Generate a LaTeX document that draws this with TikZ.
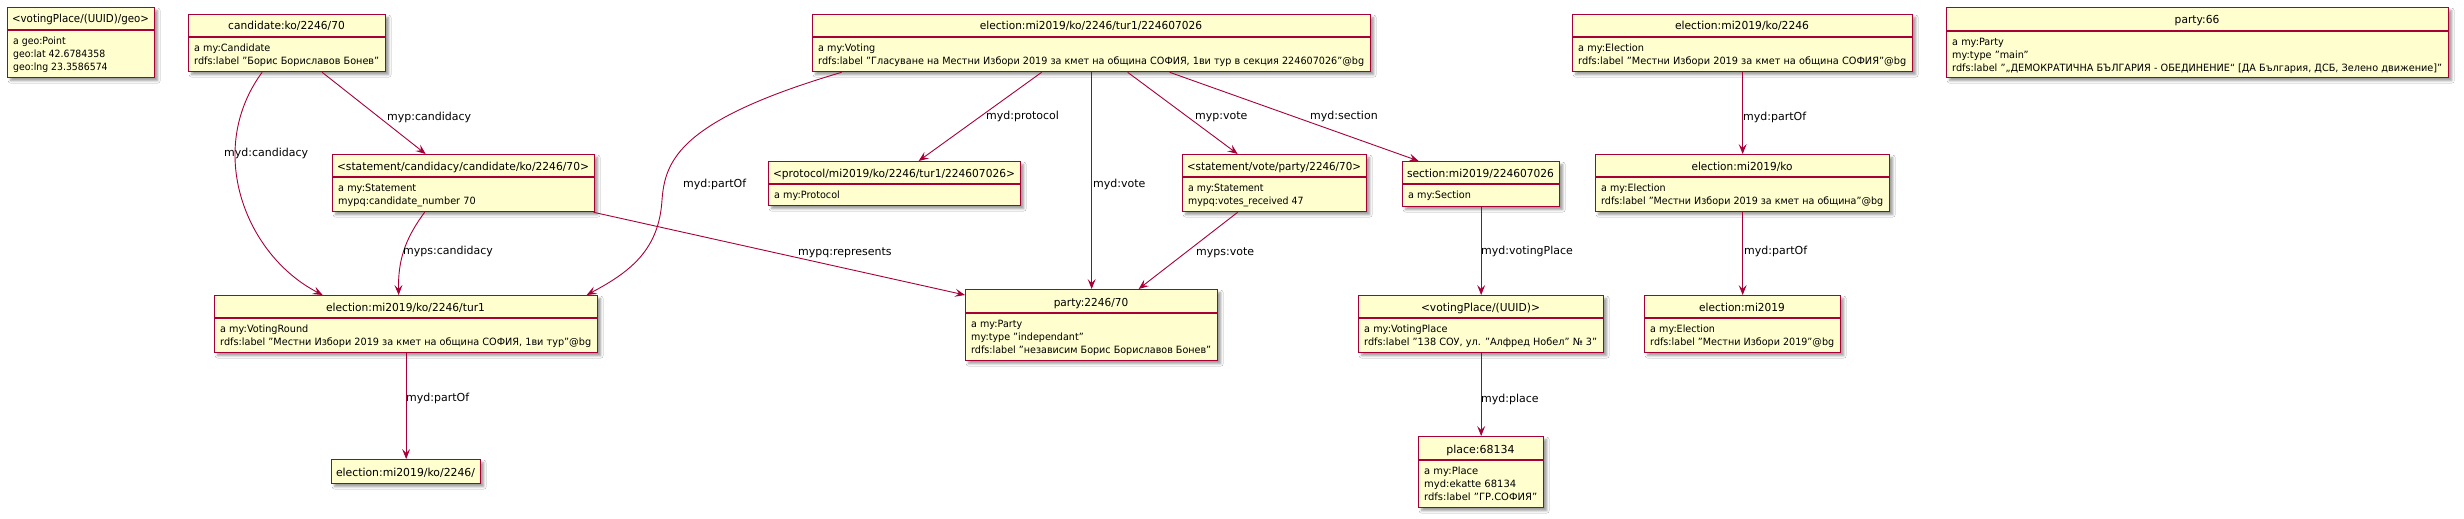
\documentclass[tikz,border=0pt]{standalone}
\usepackage{graphicx}
\usepackage{fontspec}
\setmainfont{DejaVu Sans}
\usetikzlibrary{arrows.meta,shadows.blur}
\definecolor{bord}{HTML}{A80036}
\definecolor{boxfill}{HTML}{FEFECE}
\tikzset{
 objbox/.style={rectangle, draw=bord, fill=boxfill, line width=1.3pt, inner sep=0pt, anchor=north west,
   blur shadow={shadow xshift=3pt, shadow yshift=-3pt, shadow blur radius=2.5pt, shadow opacity=40}},
 sepline/.style={draw=bord, line width=1.1pt},
 headtext/.style={anchor=base, inner sep=0pt, font=\fontsize{11}{13}\selectfont},
 bodytext/.style={anchor=base west, inner sep=0pt, font=\fontsize{10}{13}\selectfont},
 conn/.style={draw=bord, line width=0.9pt, -{Stealth[length=10pt,width=8pt,inset=4pt]}},
 lbl/.style={anchor=base west, inner sep=0pt, font=\fontsize{11}{13}\selectfont},
}
\def\objsxg{1}
% measure header (#2) and body (#3) against the available width #1, store the horizontal factor
\newcommand\objmeasure[3]{%
  \setbox0\hbox{\fontsize{10}{13}\selectfont\begin{tabular}{@{}l@{}}#3\end{tabular}}%
  \setbox2\hbox{\fontsize{11}{13}\selectfont #2}%
  \pgfmathsetmacro\objsxb{min(1,(#1-12)/max(1,\the\wd0),(#1-10)/max(1,\the\wd2))}%
  \global\let\objsxg\objsxb
}
\newcommand\objmeasurehead[2]{%
  \setbox2\hbox{\fontsize{11}{13}\selectfont #2}%
  \pgfmathsetmacro\objsxb{min(1,(#1-10)/max(1,\the\wd2))}%
  \global\let\objsxg\objsxb
}
% name, x1, y1, x2, y2, separator y, header, body lines
\newcommand\umlobj[8]{%
  \node[objbox, minimum width={#4pt-#2pt}, minimum height={#5pt-#3pt}] (#1) at (#2,#3) {};
  \draw[sepline] (#2,#6) -- (#4,#6);
  \node[bodytext] (#1-b) at ({#2+6},{#6+14.5}) {\objmeasure{#4-#2}{#7}{#8}\scalebox{\objsxg}[1]{\begin{tabular}[t]{@{}l@{}}#8\end{tabular}}};
  \node[headtext] (#1-h) at ({(#2+#4)/2},{#6-7}) {\scalebox{\objsxg}[1]{#7}};
}
\newcommand\umlsimple[6]{%
  \node[objbox, minimum width={#4pt-#2pt}, minimum height={#5pt-#3pt}] (#1) at (#2,#3) {};
  \node[headtext] (#1-h) at ({(#2+#4)/2},{#5-7}) {\objmeasurehead{#4-#2}{#6}\scalebox{\objsxg}[1]{#6}};
}
\begin{document}
\begin{tikzpicture}[x=1pt,y=-1pt]
\fill[white] (0,0) rectangle (2464,519);
\useasboundingbox (0,0) rectangle (2464,519);

\umlobj{geo}{7}{7}{154}{77}{30}{<votingPlace/(UUID)/geo>}{a geo:Point\\geo:lat 42.6784358\\geo:lng 23.3586574}
\umlobj{cand}{188}{14}{385}{71}{37}{candidate:ko/2246/70}{a my:Candidate\\rdfs:label "Борис Бориславов Бонев"}
\umlobj{voting}{812}{14}{1370}{71}{37}{election:mi2019/ko/2246/tur1/224607026}{a my:Voting\\rdfs:label "Гласуване на Местни Избори 2019 за кмет на община СОФИЯ, 1ви тур в секция 224607026"@bg}
\umlobj{elkoa}{1572}{14}{1912}{71}{37}{election:mi2019/ko/2246}{a my:Election\\rdfs:label "Местни Избори 2019 за кмет на община СОФИЯ"@bg}
\umlobj{partyb}{1946}{7}{2448}{77}{31}{party:66}{a my:Party\\my:type "main"\\rdfs:label "„ДЕМОКРАТИЧНА БЪЛГАРИЯ - ОБЕДИНЕНИЕ“ [ДА България, ДСБ, Зелено движение]"}
\umlobj{stc}{332}{154}{594}{211}{177}{<statement/candidacy/candidate/ko/2246/70>}{a my:Statement\\mypq:candidate\_number 70}
\umlobj{prot}{768}{161}{1020}{205}{184}{<protocol/mi2019/ko/2246/tur1/224607026>}{a my:Protocol}
\umlobj{stv}{1182}{154}{1366}{211}{177}{<statement/vote/party/2246/70>}{a my:Statement\\mypq:votes\_received 47}
\umlobj{sec}{1402}{161}{1559}{206}{184}{section:mi2019/224607026}{a my:Section}
\umlobj{elko}{1595}{154}{1889}{211}{177}{election:mi2019/ko}{a my:Election\\rdfs:label "Местни Избори 2019 за кмет на община"@bg}
\umlobj{tur}{214}{295}{597}{352}{318}{election:mi2019/ko/2246/tur1}{a my:VotingRound\\rdfs:label "Местни Избори 2019 за кмет на община СОФИЯ, 1ви тур"@bg}
\umlobj{party}{965}{289}{1217}{360}{313}{party:2246/70}{a my:Party\\my:type "independant"\\rdfs:label "независим Борис Бориславов Бонев"}
\umlobj{vp}{1358}{295}{1603}{352}{318}{<votingPlace/(UUID)>}{a my:VotingPlace\\rdfs:label "138 СОУ, ул. "Алфред Нобел" № 3"}
\umlobj{mi}{1644}{295}{1840}{352}{318}{election:mi2019}{a my:Election\\rdfs:label "Местни Избори 2019"@bg}
\umlobj{place}{1418}{436}{1543}{507}{460}{place:68134}{a my:Place\\myd:ekatte 68134\\rdfs:label "ГР.СОФИЯ"}
\umlsimple{turp}{331}{459}{480}{483}{election:mi2019/ko/2246/}

% connectors
\draw[conn] ([xshift=-25pt]cand.south) .. controls (205,150) and (245,255) .. ([xshift=-83.5pt]tur.north);
\draw[conn] ([xshift=35pt]cand.south) -- ([xshift=-38pt]stc.north);
\draw[conn] ([xshift=-39pt]stc.south) .. controls (404,240) and (398,262) .. ([xshift=-7.5pt]tur.north);
\draw[conn] ([xshift=130pt]stc.south) -- ([yshift=-6pt]party.north west);
\draw[conn] ([xshift=-250pt]voting.south) .. controls (680,120) and (665,160) .. (662,200) .. controls (659,250) and (630,272) .. ([xshift=180.5pt]tur.north);
\draw[conn] ([xshift=-50pt]voting.south) -- ([xshift=24pt]prot.north);
\draw[conn] (voting.south) -- (party.north);
\draw[conn] ([xshift=36pt]voting.south) -- ([xshift=-37pt]stv.north);
\draw[conn] ([xshift=78pt]voting.south) -- ([xshift=-62.5pt]sec.north);
\draw[conn] ([xshift=-37pt]stv.south) -- ([xshift=47pt]party.north);
\draw[conn] (sec.south) -- (vp.north);
\draw[conn] (vp.south) -- (place.north);
\draw[conn] (elkoa.south) -- (elko.north);
\draw[conn] (elko.south) -- (mi.north);
\draw[conn] (tur.south) -- (turp.north);

% labels
\node[lbl] (l1) at (224,156) {myd:candidacy};
\node[lbl] (l2) at (387,120) {myp:candidacy};
\node[lbl] (l3) at (403,254) {myps:candidacy};
\node[lbl] (l4) at (798,255) {mypq:represents};
\node[lbl] (l5) at (683,187) {myd:partOf};
\node[lbl] (l6) at (986,119) {myd:protocol};
\node[lbl] (l7) at (1093,187) {myd:vote};
\node[lbl] (l8) at (1195,119) {myp:vote};
\node[lbl] (l9) at (1310,119) {myd:section};
\node[lbl] (l10) at (1196,255) {myps:vote};
\node[lbl] (l11) at (1481,254) {myd:votingPlace};
\node[lbl] (l12) at (1481,402) {myd:place};
\node[lbl] (l13) at (1743,120) {myd:partOf};
\node[lbl] (l14) at (1744,254) {myd:partOf};
\node[lbl] (l15) at (406,401) {myd:partOf};
\end{tikzpicture}
\end{document}
